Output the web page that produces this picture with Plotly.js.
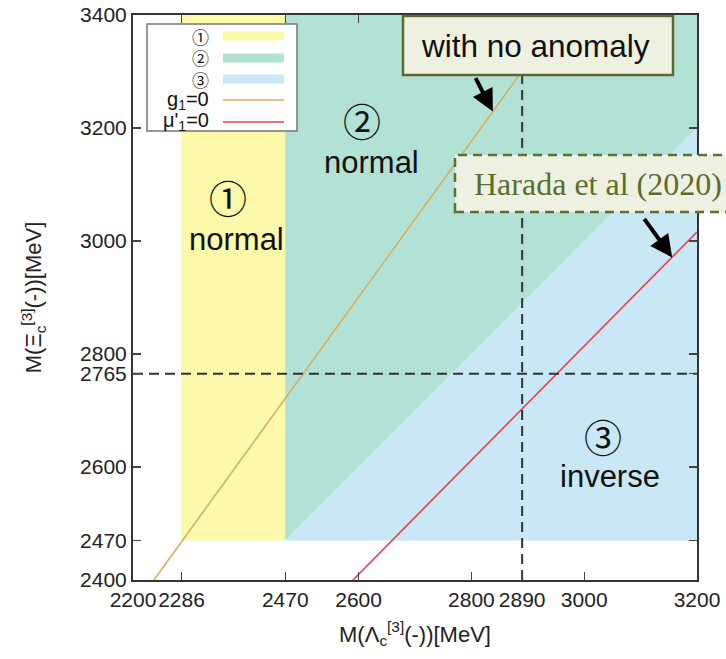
<!DOCTYPE html>
<html>
<head>
<meta charset="utf-8">
<script src="https://cdn.plot.ly/plotly-3.0.1.min.js"></script>
<style>html,body{margin:0;padding:0;background:#fff;}#chart{width:726px;height:659px;}</style>
</head>
<body>
<div id="chart"></div>
<script>
// ---- data ----
const xRange = [2200, 3200];
const yRange = [2400, 3400];
const xTicks = [2200, 2286, 2470, 2600, 2800, 2890, 3000, 3200];
const yTicks = [2400, 2470, 2600, 2765, 2800, 3000, 3200, 3400];
const region1X = [2286, 2470, 2470, 2286];
const region1Y = [2470, 2470, 3400, 3400];
const region2X = [2470, 3200, 3200, 2470];
const region2Y = [2470, 3200, 3400, 3400];
const region3X = [2470, 3200, 3200];
const region3Y = [2470, 2470, 3200];
const g1X = [2237, 2962];
const g1Y = [2400, 3400];
const mu1X = [2590, 3200];
const mu1Y = [2400, 3016];
const lambdaRef = 2890;
const xiRef = 2765;
const legendLabels = ['①', '②', '③', 'g<sub>1</sub>=0', "μ'<sub>1</sub>=0"];

// ---- style ----
const cYellow = '#fcf9aa', cTeal = '#b2e1d6', cBlue = '#c9e7f5';
const cGold = '#d6b060', cRed = '#e8404c';
const F = 'Liberation Sans, Arial, Helvetica, sans-serif';
const CJK = 'Noto Sans CJK JP, DejaVu Sans, sans-serif';

// pixel -> paper helpers (plot area 133..697 x 15..580)
const PL = 133, PW = 564, PT = 15, PH = 565;
const px = v => (v - PL) / PW;
const py = v => (PT + PH - v) / PH;

const traces = [
  {x: region1X, y: region1Y, mode: 'none', fill: 'toself', fillcolor: cYellow, hoverinfo: 'skip'},
  {x: region2X, y: region2Y, mode: 'none', fill: 'toself', fillcolor: cTeal, hoverinfo: 'skip'},
  {x: region3X, y: region3Y, mode: 'none', fill: 'toself', fillcolor: cBlue, hoverinfo: 'skip'},
  {x: g1X, y: g1Y, mode: 'lines', line: {color: cGold, width: 1.6}, hoverinfo: 'skip'},
  {x: mu1X, y: mu1Y, mode: 'lines', line: {color: cRed, width: 1.6}, hoverinfo: 'skip'},
  {x: [lambdaRef, lambdaRef], y: yRange, mode: 'lines', line: {color: '#333', width: 2, dash: '10px,6px'}, hoverinfo: 'skip'},
  {x: xRange, y: [xiRef, xiRef], mode: 'lines', line: {color: '#333', width: 2, dash: '10px,6px'}, hoverinfo: 'skip'}
];

const shapes = [];
const annotations = [];

// legend box
shapes.push({type: 'rect', xref: 'paper', yref: 'paper', x0: px(147), x1: px(297), y0: py(131), y1: py(24),
  line: {color: '#777', width: 1.5}, fillcolor: '#fff', layer: 'above'});
const rowY = [36, 58, 79, 100, 122];
const legendColors = [cYellow, cTeal, cBlue, cGold, cRed];
legendLabels.forEach((lab, i) => {
  if (i < 3) {
    shapes.push({type: 'rect', xref: 'paper', yref: 'paper', x0: px(223), x1: px(284), y0: py(rowY[i] + 4.5), y1: py(rowY[i] - 4.5),
      line: {width: 0}, fillcolor: legendColors[i], layer: 'above'});
  } else {
    shapes.push({type: 'line', xref: 'paper', yref: 'paper', x0: px(223), x1: px(284), y0: py(rowY[i]), y1: py(rowY[i]),
      line: {color: legendColors[i], width: 1.6}, layer: 'above'});
  }
  annotations.push({xref: 'paper', yref: 'paper', x: px(211), y: py(rowY[i]), xanchor: 'right', yanchor: 'middle',
    text: lab, showarrow: false, font: {family: i < 3 ? CJK : F, size: i < 3 ? 17 : 20, color: '#111'}});
});

// annotation boxes
shapes.push({type: 'rect', xref: 'paper', yref: 'paper', x0: px(403), x1: px(673), y0: py(75), y1: py(16),
  line: {color: '#5b6b2e', width: 2.5}, fillcolor: '#eef0e1', layer: 'above'});
annotations.push({xref: 'paper', yref: 'paper', x: px(535), y: py(46), xanchor: 'center', yanchor: 'middle',
  text: 'with no anomaly', showarrow: false, font: {family: F, size: 31.5, color: '#111'}});
shapes.push({type: 'rect', xref: 'paper', yref: 'paper', x0: px(455), x1: px(740), y0: py(212), y1: py(155),
  line: {color: '#5e7032', width: 2.5, dash: '9px,6px'}, fillcolor: '#eef0e1', layer: 'above'});
annotations.push({xref: 'paper', yref: 'paper', x: px(598), y: py(184), xanchor: 'center', yanchor: 'middle',
  text: 'Harada et al (2020)', showarrow: false, font: {family: 'Liberation Serif, Times New Roman, serif', size: 32, color: '#5a6e2e'}});

// arrows
annotations.push({x: 2838, y: 3229, ax: -18, ay: -35, text: '', showarrow: true, arrowhead: 2, arrowsize: 1.1, arrowwidth: 4, arrowcolor: '#000'});
annotations.push({x: 3156, y: 2971, ax: -29, ay: -40, text: '', showarrow: true, arrowhead: 2, arrowsize: 1.1, arrowwidth: 4, arrowcolor: '#000'});

// region labels
const lbl = (t, x, y, fam, sz) => annotations.push({xref: 'paper', yref: 'paper', x: px(x), y: py(y), xanchor: 'center', yanchor: 'middle',
  text: t, showarrow: false, font: {family: fam, size: sz, color: '#111'}});
lbl('①', 228, 197, CJK, 38);
lbl('normal', 236, 240, F, 31);
lbl('②', 362, 120, CJK, 38);
lbl('normal', 371, 162, F, 31);
lbl('③', 603, 435, CJK, 38);
lbl('inverse', 610, 476, F, 31);

const axisCommon = {
  showgrid: false, zeroline: false, showline: true, linecolor: '#333', linewidth: 2,
  mirror: 'ticks', ticks: 'inside', ticklen: 8, tickwidth: 1.2, tickcolor: '#444',
  tickfont: {family: F, size: 21, color: '#222'}, tickmode: 'array', tickangle: 0
};

const layout = {
  width: 726, height: 659,
  margin: {l: PL, r: 726 - PL - PW, t: PT, b: 659 - PT - PH},
  paper_bgcolor: '#fff', plot_bgcolor: '#fff',
  showlegend: false,
  xaxis: Object.assign({}, axisCommon, {range: xRange, tickvals: xTicks, ticktext: xTicks.map(String),
    title: {text: 'M(Λ<sub>c</sub><sup>[3]</sup>(-))[MeV]', font: {family: F, size: 22, color: '#222'}, standoff: 16}}),
  yaxis: Object.assign({}, axisCommon, {range: yRange, tickvals: yTicks, ticktext: yTicks.map(String),
    title: {text: 'M(Ξ<sub>c</sub><sup>[3]</sup>(-))[MeV]', font: {family: F, size: 22, color: '#222'}, standoff: 32}}),
  shapes: shapes,
  annotations: annotations
};

Plotly.newPlot('chart', traces, layout, {displayModeBar: false, staticPlot: true});
</script>
</body>
</html>
